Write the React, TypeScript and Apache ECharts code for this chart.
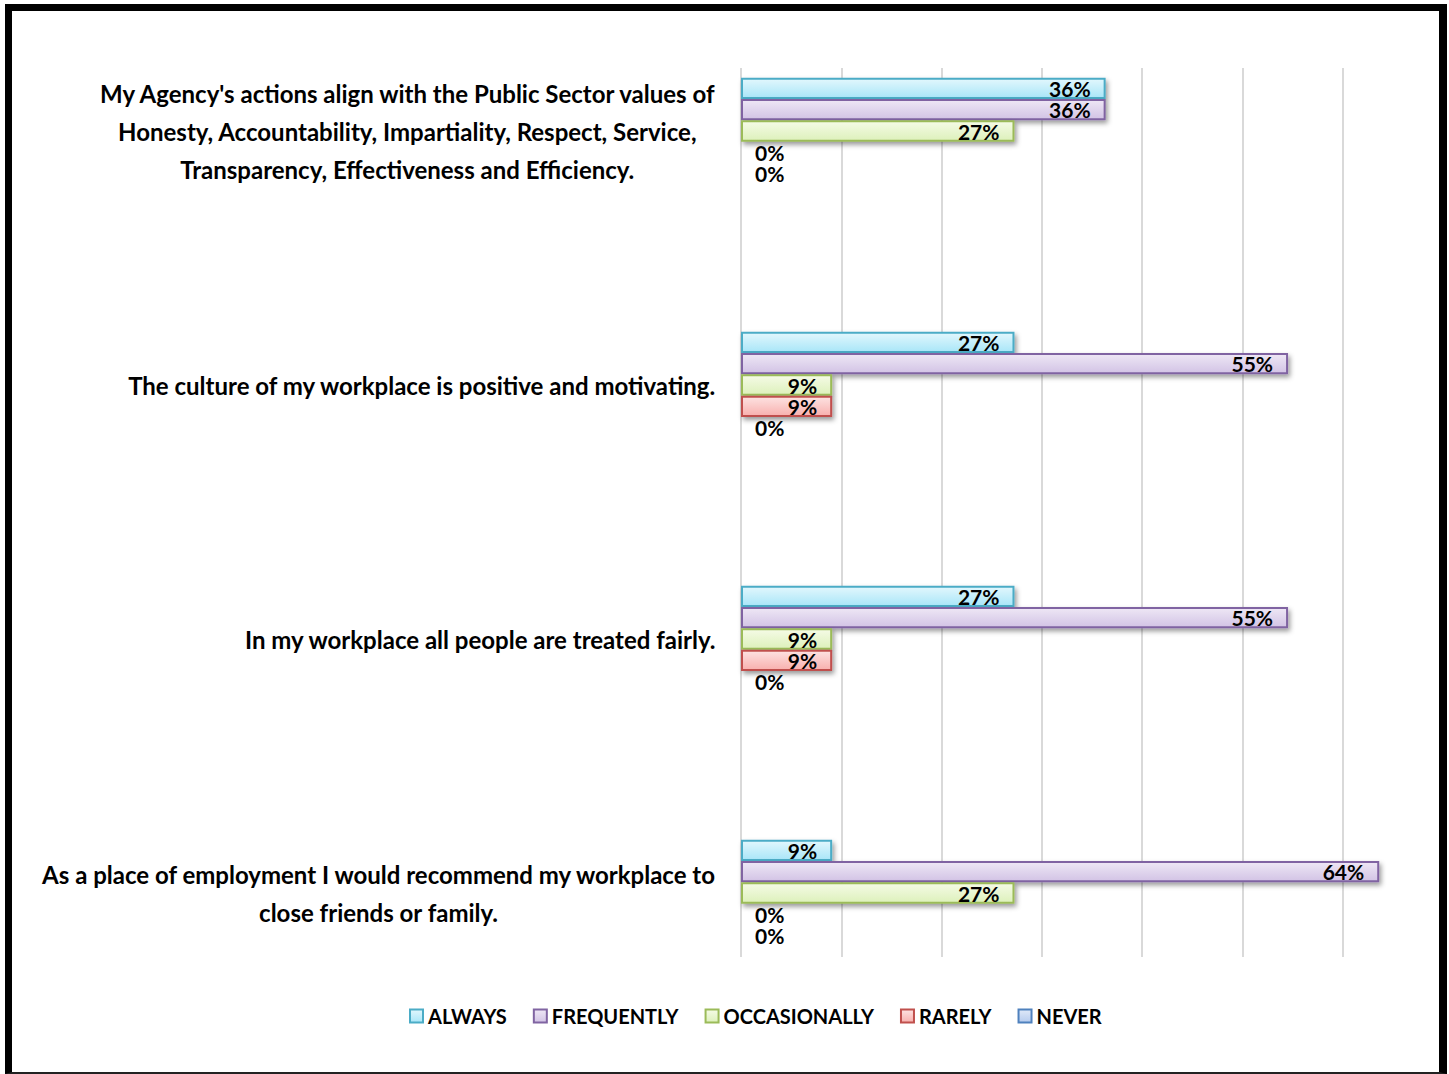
import React, { useEffect, useRef } from "react";
import * as echarts from "echarts";

const categories = [
  "My Agency's actions align with the Public Sector values of\nHonesty, Accountability, Impartiality, Respect, Service,\nTransparency, Effectiveness and Efficiency.",
  "The culture of my workplace is positive and motivating.",
  "In my workplace all people are treated fairly.",
  "As a place of employment I would recommend my workplace to\nclose friends or family.",
];

const seriesNames = ["ALWAYS", "FREQUENTLY", "OCCASIONALLY", "RARELY", "NEVER"];

const always = [0.3636, 0.2727, 0.2727, 0.0909];
const frequently = [0.3636, 0.5455, 0.5455, 0.6364];
const occasionally = [0.2727, 0.0909, 0.0909, 0.2727];
const rarely = [0, 0.0909, 0.0909, 0];
const never = [0, 0, 0, 0];

const seriesValues = [always, frequently, occasionally, rarely, never];

const borderColors = ["#4bacc6", "#8064a2", "#9bbb59", "#c0504d", "#4f81bd"];
const fillTop = ["#e2f7fd", "#eee7f5", "#f5fbe6", "#fde3e2", "#e0e9f8"];
const fillBottom = ["#a9e6f8", "#d2c3e5", "#ddf1bb", "#f8b0ae", "#b5cbee"];

const FONT = "Lato, 'Open Sans', sans-serif";

export default function App() {
  const ref = useRef<HTMLDivElement>(null);

  useEffect(() => {
    if (!ref.current) return;
    const chart = echarts.init(ref.current, undefined, { renderer: "svg" });

    const series = seriesNames.map((name, i) => ({
      name,
      type: "bar",
      xAxisIndex: 0,
      yAxisIndex: 0,
      barWidth: 21.3,
      barGap: "0%",
      itemStyle: {
        color: new echarts.graphic.LinearGradient(0, 0, 0, 1, [
          { offset: 0, color: fillTop[i] },
          { offset: 1, color: fillBottom[i] },
        ]),
        borderColor: borderColors[i],
        borderWidth: 2,
        shadowColor: "rgba(0,0,0,0.4)",
        shadowBlur: 5,
        shadowOffsetX: 2,
        shadowOffsetY: 3,
      },
      label: {
        show: true,
        position: "insideRight",
        distance: 15,
        offset: [0, 2],
        color: "#000",
        fontFamily: FONT,
        fontWeight: "bold",
        fontSize: 21,
        formatter: (p: any) => Math.round(p.value * 100) + "%",
      },
      labelLayout: { hideOverlap: false },
      data: seriesValues[i].map((v) =>
        v === 0
          ? {
              value: v,
              itemStyle: { borderWidth: 0, shadowBlur: 0, shadowOffsetX: 0, shadowOffsetY: 0 },
              label: { position: "right", distance: 14 },
            }
          : { value: v }
      ),
    }));

    chart.setOption({
      animation: false,
      backgroundColor: "#ffffff",
      grid: [
        { left: 741, width: 702, top: 4, height: 1016, outerBoundsMode: "none", containLabel: false },
        { left: 741, width: 702, top: 68, height: 889, outerBoundsMode: "none", containLabel: false },
      ],
      xAxis: [
        {
          gridIndex: 0,
          type: "value",
          min: 0,
          max: 0.7,
          interval: 0.1,
          axisLabel: { show: false },
          axisLine: { show: false },
          axisTick: { show: false },
          splitLine: { show: false },
        },
        {
          gridIndex: 1,
          type: "value",
          min: 0,
          max: 0.7,
          interval: 0.1,
          axisLabel: { show: false },
          axisLine: { show: false },
          axisTick: { show: false },
          splitLine: { show: true, lineStyle: { color: "#d9d9d9", width: 2 } },
        },
      ],
      yAxis: [
        {
          gridIndex: 0,
          type: "category",
          inverse: true,
          data: categories,
          axisLine: { show: false },
          axisTick: { show: false },
          splitLine: { show: false },
          axisLabel: {
            margin: 25,
            align: "right",
            formatter: (v: string) => "{c|" + v + "}",
            rich: {
              c: {
                align: "center",
                fontFamily: FONT,
                fontWeight: "bold",
                fontSize: 24,
                lineHeight: 38,
                color: "#000",
              },
            },
          },
        },
        {
          gridIndex: 1,
          type: "value",
          min: 0,
          max: 1,
          show: false,
        },
      ],
      legend: {
        data: seriesNames,
        bottom: 43,
        left: 404,
        itemWidth: 13,
        itemHeight: 13,
        itemGap: 26,
        icon: "rect",
        textStyle: {
          fontFamily: FONT,
          fontWeight: "bold",
          fontSize: 20,
          color: "#000",
          padding: [0, 0, 0, 0],
        },
        itemStyle: { shadowBlur: 0, shadowOffsetX: 0, shadowOffsetY: 0 },
      },
      series,
    });

    return () => chart.dispose();
  }, []);

  return (
    <div style={{ position: "absolute", left: 0, top: 0, width: 1449, height: 1074, background: "#fff" }}>
      <div ref={ref} style={{ position: "absolute", left: 0, top: 0, width: 1449, height: 1074 }} />
      <div
        style={{
          position: "absolute",
          left: 5,
          top: 4,
          width: 1442,
          height: 1070,
          boxSizing: "border-box",
          borderTop: "7px solid #000",
          borderLeft: "7px solid #000",
          borderRight: "8px solid #000",
          borderBottom: "2px solid #222",
          pointerEvents: "none",
        }}
      />
    </div>
  );
}
